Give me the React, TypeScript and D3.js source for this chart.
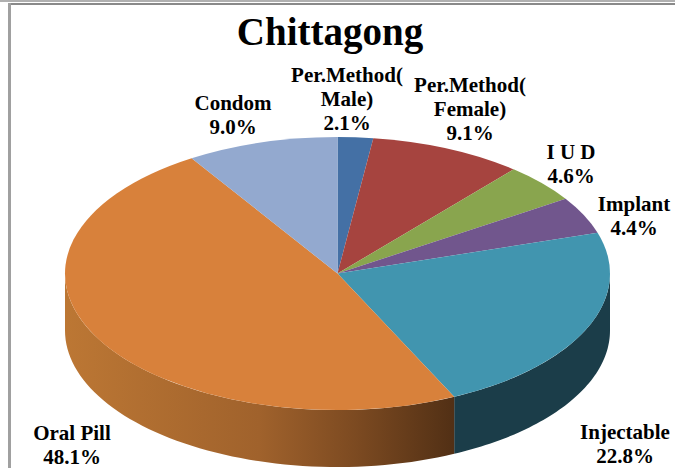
import React from 'react';
import * as d3 from 'd3';

const categories = ['Per.Method(Male)', 'Per.Method(Female)', 'I U D', 'Implant', 'Injectable', 'Oral Pill', 'Condom'];
const shares = [2.1, 9.1, 4.6, 4.4, 22.8, 48.1, 9.0];
const topColors = ['#4470A5', '#A6443F', '#89A54E', '#71568D', '#4195AF', '#D8813B', '#93A9CF'];
const sideColors = ['#2A4566', '#672A27', '#556630', '#463557', '#1B3D49', '#B97432', '#5B6880'];
const labelLines = [
  ['Per.Method(', 'Male)', '2.1%'],
  ['Per.Method(', 'Female)', '9.1%'],
  ['I U D', '4.6%'],
  ['Implant', '4.4%'],
  ['Injectable', '22.8%'],
  ['Oral Pill', '48.1%'],
  ['Condom', '9.0%'],
];
const labelPos = [
  [347, 82],
  [470, 92],
  [571, 159],
  [634, 211],
  [625, 439],
  [72, 440],
  [233, 110],
];

const width = 675;
const height = 468;
const cx = 337.5;
const cy = 273.5;
const rx = 272.5;
const ry = 136.5;
const depth = 57;

const pie = d3.pie<number>().sort(null).startAngle(0).endAngle(2 * Math.PI);
const arcs = pie(shares);
const arc = d3.arc<d3.PieArcDatum<number>>().innerRadius(0).outerRadius(rx);

// side wall of one slice, only the part that faces the viewer
function sidePath(a0: number, a1: number) {
  const from = Math.max(a0, Math.PI / 2);
  const to = Math.min(a1, (3 * Math.PI) / 2);
  if (to <= from) return null;
  const steps = d3.range(0, 61).map(i => from + ((to - from) * i) / 60);
  const top = steps.map(a => [cx + rx * Math.sin(a), cy - ry * Math.cos(a)] as [number, number]);
  const bottom = top.map(([x, y]) => [x, y + depth] as [number, number]).reverse();
  return d3.line()([...top, ...bottom]) + 'Z';
}

export default function App() {
  return (
    <svg width={width} height={height} style={{ position: 'absolute', left: 0, top: 0, background: '#fff' }}>
      <defs>
        <linearGradient id="oralSide" gradientUnits="userSpaceOnUse" x1={65} x2={453} y1={0} y2={0}>
          <stop offset="0" stopColor="#BC7734" />
          <stop offset="0.5" stopColor="#A0622C" />
          <stop offset="0.75" stopColor="#7C4A21" />
          <stop offset="1" stopColor="#523015" />
        </linearGradient>
      </defs>
      <rect x={0} y={0} width={width} height={2} fill="#b0b0b0" />
      <rect x={8} y={3} width={width - 8} height={2} fill="#8a8a8a" />
      <rect x={8} y={3} width={3} height={height - 3} fill="#a0a0a0" />

      {arcs.map((d, i) => {
        const p = sidePath(d.startAngle, d.endAngle);
        if (!p) return null;
        return <path key={categories[i]} d={p} fill={categories[i] === 'Oral Pill' ? 'url(#oralSide)' : sideColors[i]} />;
      })}
      <g transform={`translate(${cx},${cy}) scale(1,${ry / rx})`}>
        {arcs.map((d, i) => (
          <path key={categories[i]} d={arc(d) as string} fill={topColors[i]} />
        ))}
      </g>

      <g fontFamily="'Liberation Serif', serif" fontWeight="bold" fill="#000" textAnchor="middle">
        <text x={330} y={45} fontSize={39}>Chittagong</text>
        {labelLines.map((lines, i) => (
          <text key={categories[i]} x={labelPos[i][0]} y={labelPos[i][1]} fontSize={21}>
            {lines.map((l, j) => (
              <tspan key={j} x={labelPos[i][0]} dy={j === 0 ? 0 : 24}>{l}</tspan>
            ))}
          </text>
        ))}
      </g>
    </svg>
  );
}
